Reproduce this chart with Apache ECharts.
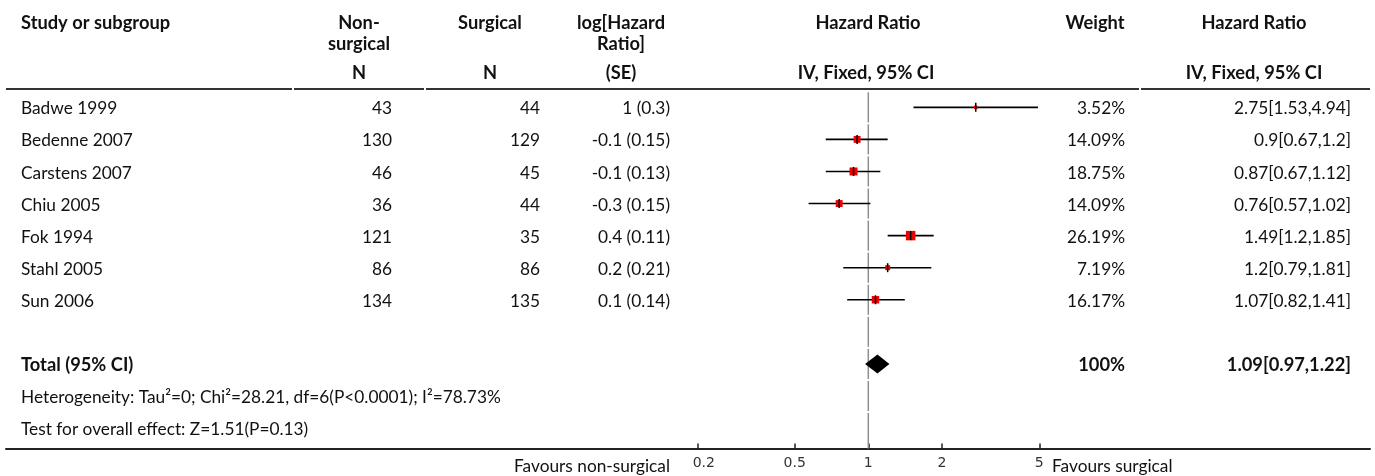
<!DOCTYPE html>
<html><head><meta charset="utf-8">
<script src="https://cdn.jsdelivr.net/npm/echarts@6/dist/echarts.min.js"></script>
<style>html,body{margin:0;padding:0;background:#fff}#c{width:1375px;height:476px}</style>
</head><body><div id="c"></div>
<script>
// ---- data ----
const studies = ['Badwe 1999','Bedenne 2007','Carstens 2007','Chiu 2005','Fok 1994','Stahl 2005','Sun 2006'];
const nonSurgicalN = [43,130,46,36,121,86,134];
const surgicalN = [44,129,45,44,35,86,135];
const logHR = [1,-0.1,-0.1,-0.3,0.4,0.2,0.1];
const logSE = [0.3,0.15,0.13,0.15,0.11,0.21,0.14];
const weights = [3.52,14.09,18.75,14.09,26.19,7.19,16.17];
const hr = [2.75,0.9,0.87,0.76,1.49,1.2,1.07];
const hrLow = [1.53,0.67,0.67,0.57,1.2,0.79,0.82];
const hrHigh = [4.94,1.2,1.12,1.02,1.85,1.81,1.41];
const totalLabel = 'Total (95% CI)';
const totalWeight = 100;
const totalHR = 1.09, totalLow = 0.97, totalHigh = 1.22;
const heterogeneityText = 'Heterogeneity: Tau\u00b2=0; Chi\u00b2=28.21, df=6(P<0.0001); I\u00b2=78.73%';
const overallText = 'Test for overall effect: Z=1.51(P=0.13)';
const tickValues = [0.2,0.5,1,2,5];
const favoursLeft = 'Favours non-surgical';
const favoursRight = 'Favours surgical';

// ---- layout ----
const FONT = 'Lato';
const FS = 17.3;
const FSB = 18.3;
const TXT = '#111';
const TEXT_DY = 1.5;
const gridLeft = 6, gridRight = 5, gridTop = 91.3, gridBottomY = 448.5;
const X_AT_1 = 868.3, PX_PER_DECADE = 244.6;
const ROW_H = 32.07;
const chartW = 1375;
const xMin = Math.pow(10, (gridLeft - X_AT_1) / PX_PER_DECADE);
const xMax = Math.pow(10, ((chartW - gridRight) - X_AT_1) / PX_PER_DECADE);
const nRows = 11;
const yMin = -0.5;
const yMax = yMin + (gridBottomY - gridTop) / ROW_H;

const cols = [
  {x: 21, align: 'left'},
  {x: 392, align: 'right'},
  {x: 540, align: 'right'},
  {x: 670, align: 'right'},
  {x: 1125, align: 'right'},
  {x: 1351, align: 'right'}
];

const tableRows = [];
studies.forEach((s, i) => {
  tableRows.push({row: i, bold: false, cells: [
    s, String(nonSurgicalN[i]), String(surgicalN[i]),
    logHR[i] + ' (' + logSE[i] + ')',
    weights[i].toFixed(2) + '%',
    hr[i] + '[' + hrLow[i] + ',' + hrHigh[i] + ']'
  ]});
});
tableRows.push({row: 8, bold: true, cells: [totalLabel, null, null, null, totalWeight + '%', totalHR.toFixed(2) + '[' + totalLow + ',' + totalHigh + ']']});
tableRows.push({row: 9, bold: false, cells: [heterogeneityText]});
tableRows.push({row: 10, bold: false, cells: [overallText]});

const chart = echarts.init(document.getElementById('c'), null, {renderer: 'canvas'});

function fontOf(bold) { return bold ? ('bold ' + FSB + 'px ' + FONT) : (FS + 'px ' + FONT); }

function hText(x, y, text, align, bold) {
  return {type: 'text', x: x, y: y, silent: true, style: {
    text: text, textAlign: align, textVerticalAlign: 'middle',
    font: fontOf(bold), fill: TXT
  }};
}

const H1 = 23, H2 = 44, H3 = 73.5;
const graphics = [
  hText(21, H1, 'Study or subgroup', 'left', true),
  hText(359, H1, 'Non-', 'center', true),
  hText(359, H2, 'surgical', 'center', true),
  hText(359, H3, 'N', 'center', true),
  hText(490, H1, 'Surgical', 'center', true),
  hText(490, H3, 'N', 'center', true),
  hText(621, H1, 'log[Hazard', 'center', true),
  hText(621, H2, 'Ratio]', 'center', true),
  hText(621, H3, '(SE)', 'center', true),
  hText(868, H1, 'Hazard Ratio', 'center', true),
  hText(866, H3, 'IV, Fixed, 95% CI', 'center', true),
  hText(1095, H1, 'Weight', 'center', true),
  hText(1254, H1, 'Hazard Ratio', 'center', true),
  hText(1254, H3, 'IV, Fixed, 95% CI', 'center', true),
  hText(670, 466, favoursLeft, 'right', false),
  hText(1052, 466, favoursRight, 'left', false)
];
[[6,292],[294,424],[426,1139],[1141,1370]].forEach(seg => {
  graphics.push({type: 'line', silent: true, shape: {x1: seg[0], y1: 89, x2: seg[1], y2: 89}, style: {stroke: '#333', lineWidth: 2}});
});

const refRows = [];
for (let k = 0; k < nRows; k++) refRows.push([1, k]);

const option = {
  animation: false,
  backgroundColor: '#fff',
  grid: {left: gridLeft, right: gridRight, top: gridTop, height: gridBottomY - gridTop, containLabel: false},
  xAxis: {
    type: 'log', min: xMin, max: xMax, logBase: 10, position: 'bottom',
    axisLine: {show: true, onZero: false, lineStyle: {color: '#222', width: 2}},
    axisTick: {show: true, inside: true, length: 5, customValues: tickValues, lineStyle: {color: '#222', width: 1.5}},
    axisLabel: {show: true, customValues: tickValues, margin: 8, color: '#333', fontFamily: 'DejaVu Sans', fontSize: 14,
      formatter: v => (v === tickValues[0] ? '{first|' + v + '}' : '{n|' + v + '}'),
      rich: {
        first: {fontFamily: 'DejaVu Sans', fontSize: 14, color: '#333', padding: [0, 0, 0, 13]},
        n: {fontFamily: 'DejaVu Sans', fontSize: 14, color: '#333'}
      }},
    splitLine: {show: false}
  },
  yAxis: {type: 'value', inverse: true, min: yMin, max: yMax, show: false},
  graphic: graphics,
  series: [
    {
      type: 'custom', z: 1, data: refRows, encode: {x: 0, y: 1},
      renderItem: (params, api) => {
        const k = api.value(1);
        const x = api.coord([1, k])[0];
        const top = api.coord([1, k - 0.5])[1] + 1;
        const bottom = k === nRows - 1 ? api.coord([1, yMax])[1] : api.coord([1, k + 0.5])[1] - 1;
        return {type: 'line', shape: {x1: x, y1: top, x2: x, y2: bottom}, style: {stroke: '#8f8f8f', lineWidth: 1.5}};
      }
    },
    {
      type: 'custom', z: 2,
      data: studies.map((s, i) => [hrLow[i], hrHigh[i], hr[i], weights[i], i]),
      encode: {x: [0, 1, 2], y: 4},
      renderItem: (params, api) => {
        const row = api.value(4);
        const p1 = api.coord([api.value(0), row]);
        const p2 = api.coord([api.value(1), row]);
        const pc = api.coord([api.value(2), row]);
        const s = 1.85 * Math.sqrt(api.value(3));
        return {type: 'group', children: [
          {type: 'line', shape: {x1: p1[0], y1: p1[1], x2: p2[0], y2: p2[1]}, style: {stroke: '#000', lineWidth: 1.6}},
          {type: 'rect', shape: {x: pc[0] - s / 2, y: pc[1] - s / 2, width: s, height: s}, style: {fill: '#ee0000'}},
          {type: 'line', shape: {x1: pc[0], y1: pc[1] - 4.5, x2: pc[0], y2: pc[1] + 4.5}, style: {stroke: '#000', lineWidth: 1.5}}
        ]};
      }
    },
    {
      type: 'custom', z: 3,
      data: [[totalLow, totalHigh, totalHR, 8]],
      encode: {x: [0, 1, 2], y: 3},
      renderItem: (params, api) => {
        const row = api.value(3);
        const pl = api.coord([api.value(0), row]);
        const ph = api.coord([api.value(1), row]);
        const pc = api.coord([api.value(2), row]);
        const h = 9.5;
        return {type: 'polygon', shape: {points: [[pl[0], pc[1]], [pc[0], pc[1] - h], [ph[0], pc[1]], [pc[0], pc[1] + h]]}, style: {fill: '#000'}};
      }
    },
    {
      type: 'custom', z: 4,
      data: tableRows.map(r => [1, r.row]),
      encode: {x: 0, y: 1},
      renderItem: (params, api) => {
        const r = tableRows[params.dataIndex];
        const y = api.coord([1, api.value(1)])[1] + TEXT_DY;
        const children = [];
        r.cells.forEach((t, j) => {
          if (t == null) return;
          children.push({type: 'text', x: cols[j].x, y: y, style: {
            text: t, textAlign: cols[j].align, textVerticalAlign: 'middle',
            font: fontOf(r.bold), fill: TXT
          }});
        });
        return {type: 'group', children: children};
      }
    }
  ]
};
chart.setOption(option);
</script>
</body></html>
